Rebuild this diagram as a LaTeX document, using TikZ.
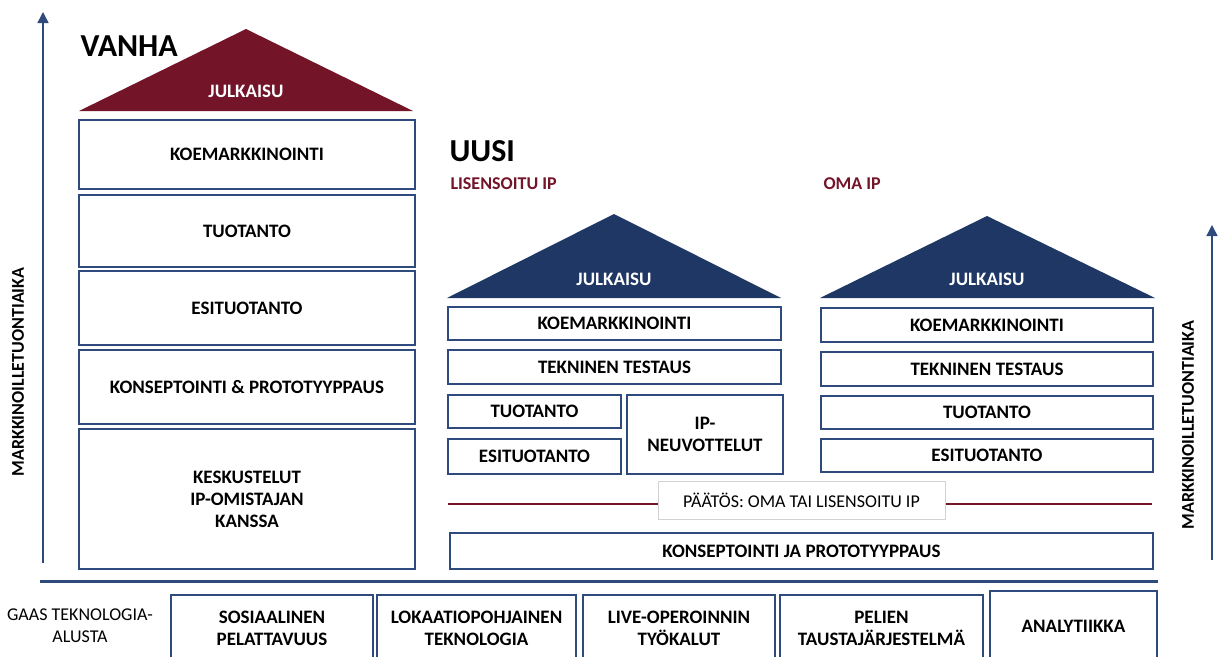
\documentclass[tikz,border=0pt]{standalone}
\usepackage{fontspec}
\setmainfont{Carlito}
\usepackage{tikz}
\usetikzlibrary{arrows.meta}
\definecolor{navy}{RGB}{47,74,124}
\definecolor{darknavy}{RGB}{31,55,100}
\definecolor{maroon}{RGB}{115,20,41}
\definecolor{softgray}{RGB}{210,210,210}

\begin{document}
\begin{tikzpicture}[x=1pt, y=-1pt,
  box/.style={draw=navy, line width=1.8pt, fill=white, align=center, inner sep=0pt,
    font=\bfseries\fontsize{19}{22}\selectfont},
  roof/.style={text=white, font=\bfseries\fontsize{19}{22}\selectfont},
  axis/.style={draw=navy, line width=1.5pt, -{Triangle[length=11pt,width=11pt]}},
  axislabel/.style={rotate=90, font=\bfseries\fontsize{18}{22}\selectfont}]
\useasboundingbox (0,0) rectangle (1222,656);

% aika-akselit
\coordinate (aL0) at (43,563);
\coordinate (aL1) at (43,12);
\draw[axis] (aL0) -- (aL1);
\node[axislabel] (tL) at (18,372) {MARKKINOILLETUONTIAIKA};
\coordinate (aR0) at (1212,560);
\coordinate (aR1) at (1212,225);
\draw[axis] (aR0) -- (aR1);
\node[axislabel] (tR) at (1188,425) {MARKKINOILLETUONTIAIKA};

% vanha malli
\node[anchor=west, font=\bfseries\fontsize{32}{36}\selectfont] (vanha) at (77,46) {VANHA};
\fill[maroon] (79,111) -- (246,29) -- (413,111) -- cycle;
\node[roof] (vJul) at (246,91) {JULKAISU};
\node[box, minimum width=336pt, minimum height=69pt] (vKoe) at (247,154.5) {KOEMARKKINOINTI};
\node[box, minimum width=336pt, minimum height=72pt] (vTuo) at (247,231) {TUOTANTO};
\node[box, minimum width=336pt, minimum height=74pt] (vEsi) at (247,308) {ESITUOTANTO};
\node[box, minimum width=336pt, minimum height=74pt] (vKon) at (247,387) {KONSEPTOINTI \& PROTOTYYPPAUS};
\node[box, minimum width=336pt, minimum height=140pt] (vKes) at (247,499) {KESKUSTELUT\\IP-OMISTAJAN\\KANSSA};

% uusi malli
\node[anchor=west, font=\bfseries\fontsize{32}{36}\selectfont] (uusi) at (446,151) {UUSI};
\node[anchor=west, text=maroon, font=\bfseries\fontsize{18}{22}\selectfont] (lisIP) at (447,184) {LISENSOITU IP};
\node[anchor=west, text=maroon, font=\bfseries\fontsize{18}{22}\selectfont] (omaIP) at (820,184) {OMA IP};

% lisensoitu ip
\fill[darknavy] (447,298) -- (614,214) -- (781,298) -- cycle;
\node[roof] (lJul) at (614,279) {JULKAISU};
\node[box, minimum width=333pt, minimum height=33pt] (lKoe) at (614.5,323.5) {KOEMARKKINOINTI};
\node[box, minimum width=333pt, minimum height=34pt] (lTek) at (614.5,367) {TEKNINEN TESTAUS};
\node[box, minimum width=173pt, minimum height=33pt] (lTuo) at (534.5,411.5) {TUOTANTO};
\node[box, minimum width=173pt, minimum height=35pt] (lEsi) at (534.5,456.5) {ESITUOTANTO};
\node[box, minimum width=156pt, minimum height=79pt] (lIp) at (705,434.5) {IP-\\NEUVOTTELUT};

% oma ip
\fill[darknavy] (820,298) -- (987,216) -- (1155,298) -- cycle;
\node[roof] (oJul) at (987,279) {JULKAISU};
\node[box, minimum width=332pt, minimum height=34pt] (oKoe) at (987,325) {KOEMARKKINOINTI};
\node[box, minimum width=332pt, minimum height=34pt] (oTek) at (987,369) {TEKNINEN TESTAUS};
\node[box, minimum width=332pt, minimum height=33pt] (oTuo) at (987,412.5) {TUOTANTO};
\node[box, minimum width=332pt, minimum height=33pt] (oEsi) at (987,455.5) {ESITUOTANTO};

% paatos
\coordinate (pA) at (448,504);
\coordinate (pB) at (1152,504);
\draw[maroon, line width=2pt] (pA) -- (pB);
\node[draw=softgray, line width=0.8pt, fill=white, minimum width=287pt, minimum height=38pt,
  font=\fontsize{18}{22}\selectfont] (paatos) at (801.5,500) {PÄÄTÖS: OMA TAI LISENSOITU IP};
\node[box, minimum width=703pt, minimum height=36pt] (uKon) at (801.5,551) {KONSEPTOINTI JA PROTOTYYPPAUS};

% alusta
\coordinate (sA) at (40,581);
\coordinate (sB) at (1158,581);
\draw[navy, line width=3pt] (sA) -- (sB);
\node[align=center, font=\fontsize{18}{22}\selectfont] (gaas) at (80,626) {GAAS TEKNOLOGIA-\\ALUSTA};
\node[box, minimum width=202pt, minimum height=66pt] (gSos) at (272,628) {SOSIAALINEN\\PELATTAVUUS};
\node[box, minimum width=199pt, minimum height=66pt] (gLok) at (476.5,628) {LOKAATIOPOHJAINEN\\TEKNOLOGIA};
\node[box, minimum width=192pt, minimum height=66pt] (gLiv) at (679,628) {LIVE-OPEROINNIN\\TYÖKALUT};
\node[box, minimum width=203pt, minimum height=66pt] (gPel) at (881.5,628) {PELIEN\\TAUSTAJÄRJESTELMÄ};
\node[box, minimum width=167pt, minimum height=70pt] (gAna) at (1073.5,626) {ANALYTIIKKA};
\end{tikzpicture}
\end{document}
